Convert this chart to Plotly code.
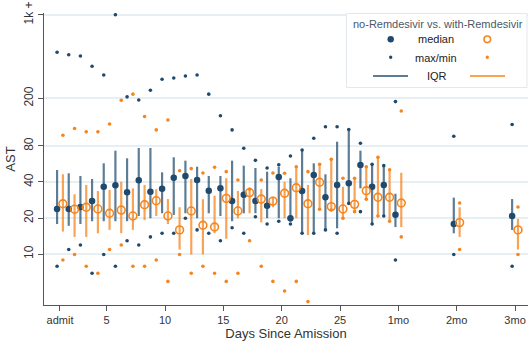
import numpy as np
import plotly.graph_objects as go

# ---------------- data ----------------
days = [1, 2, 3, 4, 5, 6, 7, 8, 9, 10, 11, 12, 13, 14, 15, 16, 17, 18, 19, 20,
        21, 22, 23, 24, 25, 26, 27, 28, 29, 30, 35, 40]
x_tick_vals = [1, 5, 10, 15, 20, 25, 30, 35, 40]
x_tick_text = ["admit", "5", "10", "15", "20", "25", "1mo", "2mo", "3mo"]
y_tick_vals = [10, 20, 40, 80, 200, 1000]
y_tick_text = ["10", "20", "40", "80", "200", "1k +"]

# no-Remdesivir
no_med = [23.8, 23.8, 24.7, 27.7, 36.5, 37.5, 32.8, 41.3, 33.2, 35.2, 43.4, 44.9, 41.6, 33.8, 35.4, 27.7,
          31.3, 27.7, 25.3, 44.0, 19.9, 33.6, 45.8, 29.8, 37.8, 39.0, 55.5, 36.5, 37.8, 21.3, 17.8, 20.8]
no_q1 = [17.8, 17.2, 17.8, 18.8, 18.8, 18.8, 18.8, 20.8, 19.9, 21.9, 21.2, 21.9, 19.9, 21.9, 20.8, 18.8,
         21.9, 21.9, 19.9, 19.9, 18.6, 14.9, 14.9, 15.9, 16.4, 26.5, 35.4, 17.8, 20.8, 16.8, 14.9, 15.9]
no_q3 = [50.4, 47.3, 44.9, 42.4, 57.3, 73.1, 63.1, 77.0, 77.0, 48.2, 64.4, 60.3, 53.7, 44.9, 44.9, 60.3,
         54.8, 52.4, 48.8, 53.7, 43.0, 74.1, 57.3, 46.4, 86.9, 110, 73.1, 56.2, 54.8, 31.9, 29.6, 28.8]
no_max = [486, 464, 453, 371, 314, 1000, 206, 194, 234, 289, 296, 308, 314, 217, 143, 109,
          76.5, 60.7, 52.4, 55.8, 66.0, 74.1, 92.8, 116, 116, 110, 84.3, 56.2, 54.8, 188, 96.4, 121]
no_min = [7.9, 10.9, 11.9, 6.9, 9.9, 7.9, 12.9, 11.9, 13.9, 14.9, 14.9, 19.9, 15.9, 14.9, 12.9, 16.6,
          14.9, 20.5, 17.8, 18.8, 17.8, 14.9, 14.9, 15.9, 14.9, 26.5, 22.6, 17.8, 20.8, 8.9, 9.9, 7.9]

# with-Remdesivir
rem_med = [26.3, 23.7, 24.6, 23.8, 21.9, 23.3, 20.8, 25.8, 27.9, 20.8, 15.9, 22.9, 17.4, 16.8, 29.2, 22.9,
           32.6, 28.8, 27.7, 32.2, 35.8, 26.3, 39.8, 24.9, 23.8, 26.0, 33.8, 29.8, 29.8, 26.7, 18.3, 15.9]
rem_q1 = [15.4, 13.9, 13.9, 14.9, 15.9, 14.9, 15.9, 19.2, 20.8, 17.8, 10.9, 9.9, 9.9, 14.9, 13.4, 19.9,
          21.9, 18.4, 24.6, 19.9, 19.9, 14.4, 23.7, 23.3, 19.9, 22.6, 28.7, 20.8, 18.8, 16.8, 13.9, 10.9]
rem_q3 = [46.4, 31.6, 37.8, 33.6, 34.3, 40.2, 35.4, 37.8, 34.8, 28.8, 24.6, 42.4, 28.7, 30.7, 43.0, 33.6,
          34.9, 34.9, 30.1, 40.2, 53.7, 37.8, 55.5, 61.9, 36.5, 43.0, 53.7, 64.4, 50.7, 47.8, 24.6, 19.7]
rem_max = [98.3, 112, 105, 105, 122, 193, 217, 141, 109, 132, 49.7, 51.7, 47.6, 53.1, 48.8, 41.6,
           34.9, 41.6, 47.6, 47.3, 53.7, 48.8, 56.2, 61.9, 43.0, 43.0, 53.7, 64.4, 50.7, 157, 26.7, 24.7]
rem_min = [8.9, 9.9, 7.9, 6.9, 10.9, 11.9, 7.9, 7.9, 8.9, 5.9, 9.9, 6.9, 7.9, 6.9, 5.9, 6.9,
           12.9, 7.9, 5.9, 4.9, 5.9, 4.0, 23.7, 23.3, 19.9, 22.6, 28.7, 20.8, 18.8, 13.9, 10.9, 9.9]

# ---------------- style ----------------
BLUE = "#1f4a6e"
BLUE_LINE = "rgba(31,74,110,0.72)"
ORANGE = "#f5851f"
ORANGE_LINE = "rgba(245,133,31,0.75)"
FONT = "Liberation Sans, Arial, sans-serif"
OFF = 0.25

W, H = 528, 345
ML, MR, MT, MB = 44, 0, 13, 40


def segs(xs, lo, hi):
    sx, sy = [], []
    for x, a, b in zip(xs, lo, hi):
        sx += [x, x, None]
        sy += [a, b, None]
    return sx, sy


x_no = [d - OFF for d in days]
x_rem = [d + OFF for d in days]

fig = go.Figure()

for xs, q1, q3, col in [(x_no, no_q1, no_q3, BLUE_LINE), (x_rem, rem_q1, rem_q3, ORANGE_LINE)]:
    sx, sy = segs(xs, q1, q3)
    fig.add_trace(go.Scatter(x=sx, y=sy, mode="lines", line=dict(color=col, width=2.2),
                             hoverinfo="skip", showlegend=False))

for xs, mx, mn, col in [(x_no, no_max, no_min, BLUE), (x_rem, rem_max, rem_min, ORANGE)]:
    fig.add_trace(go.Scatter(x=xs + xs, y=mx + mn, mode="markers",
                             marker=dict(color=col, size=3.6, line=dict(width=0)),
                             showlegend=False))

fig.add_trace(go.Scatter(x=x_no, y=no_med, mode="markers",
                         marker=dict(color=BLUE, size=6.5, line=dict(width=0)), showlegend=False))
fig.add_trace(go.Scatter(x=x_rem, y=rem_med, mode="markers",
                         marker=dict(symbol="circle-open", color=ORANGE, size=7.8,
                                     line=dict(width=1.6, color=ORANGE)), showlegend=False))

# ---------------- custom 3-column legend ----------------
pw, ph = W - ML - MR, H - MT - MB


def px(x):
    return (x - ML) / pw


def py(y):
    return (H - MB - y) / ph


shapes = [dict(type="rect", xref="paper", yref="paper", x0=px(346.5), x1=px(527), y0=py(87.5), y1=py(13.5),
               fillcolor="white", line=dict(color="#e3e8ec", width=1), layer="above")]


def dot(cx, cy, r, fill, line_col, lw):
    return dict(type="circle", xref="paper", yref="paper", xsizemode="pixel", ysizemode="pixel",
                xanchor=px(cx), yanchor=py(cy), x0=-r, x1=r, y0=-r, y1=r,
                fillcolor=fill, line=dict(color=line_col, width=lw), layer="above")


shapes += [
    dot(390.7, 39.3, 3.2, BLUE, BLUE, 0),
    dot(487.3, 39.3, 3.3, "rgba(0,0,0,0)", ORANGE, 1.6),
    dot(390.7, 57.3, 1.7, BLUE, BLUE, 0),
    dot(487.3, 57.3, 1.7, ORANGE, ORANGE, 0),
    dict(type="line", xref="paper", yref="paper", x0=px(373), x1=px(408), y0=py(76), y1=py(76),
         line=dict(color=BLUE_LINE, width=2), layer="above"),
    dict(type="line", xref="paper", yref="paper", x0=px(470), x1=px(505), y0=py(76), y1=py(76),
         line=dict(color=ORANGE_LINE, width=2), layer="above"),
]

annotations = [
    dict(text="no-Remdesivir vs. with-Remdesivir", x=px(437.5), y=py(24), xref="paper", yref="paper",
         showarrow=False, font=dict(family=FONT, size=11, color="#4a5868"), xanchor="center", yanchor="middle"),
    dict(text="median", x=px(436), y=py(39.5), xref="paper", yref="paper", showarrow=False,
         font=dict(family=FONT, size=11, color="#222"), xanchor="center", yanchor="middle"),
    dict(text="max/min", x=px(436), y=py(57.5), xref="paper", yref="paper", showarrow=False,
         font=dict(family=FONT, size=11, color="#222"), xanchor="center", yanchor="middle"),
    dict(text="IQR", x=px(437), y=py(76), xref="paper", yref="paper", showarrow=False,
         font=dict(family=FONT, size=11, color="#222"), xanchor="center", yanchor="middle"),
]

fig.update_layout(
    width=W, height=H,
    margin=dict(l=ML, r=MR, t=MT, b=MB),
    paper_bgcolor="white", plot_bgcolor="white",
    font=dict(family=FONT, size=11, color="#333"),
    shapes=shapes, annotations=annotations,
    showlegend=False,
)
fig.update_xaxes(range=[-0.37, 41.11], tickvals=x_tick_vals, ticktext=x_tick_text,
                 showgrid=False, zeroline=False, showline=True, linecolor="#555", linewidth=1,
                 ticks="outside", ticklen=5, tickcolor="#555", tickfont=dict(size=11, color="#333"),
                 title=dict(text="Days Since Amission", font=dict(size=13, color="#333"), standoff=2))
fig.update_yaxes(type="log", range=[0.5736, 3.015], tickvals=y_tick_vals, ticktext=y_tick_text,
                 tickangle=-90, showgrid=True, gridcolor="#e8eff3", gridwidth=1.5, zeroline=False,
                 showline=True, linecolor="#555", linewidth=1,
                 ticks="outside", ticklen=5, tickcolor="#555", tickfont=dict(size=12, color="#333"),
                 title=dict(text="AST", font=dict(size=13, color="#333"), standoff=3))

fig.write_html("out.html")
